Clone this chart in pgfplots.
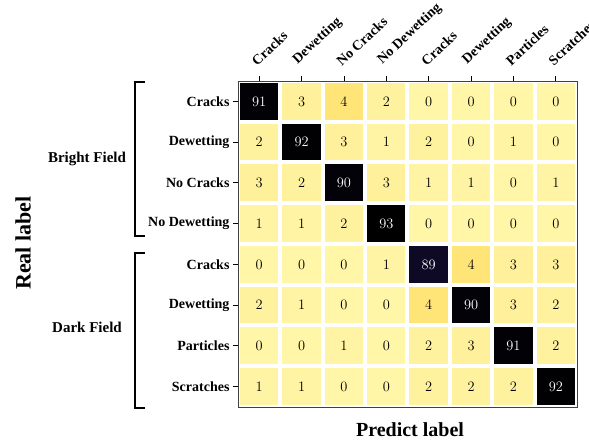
\documentclass[border=0pt]{standalone}
\usepackage{pgfplots}
\usepackage{pgfplotstable}
\pgfplotsset{compat=1.18}
\usepackage{fontspec}
\setmainfont{Liberation Serif}
\pgfplotstableread{
x y c
0 0 1
1 0 1
2 0 0
3 0 0
4 0 2
5 0 2
6 0 2
7 0 92
0 1 0
1 1 0
2 1 1
3 1 0
4 1 2
5 1 3
6 1 91
7 1 2
0 2 2
1 2 1
2 2 0
3 2 0
4 2 4
5 2 90
6 2 3
7 2 2
0 3 0
1 3 0
2 3 0
3 3 1
4 3 89
5 3 4
6 3 3
7 3 3
0 4 1
1 4 1
2 4 2
3 4 93
4 4 0
5 4 0
6 4 0
7 4 0
0 5 3
1 5 2
2 5 90
3 5 3
4 5 1
5 5 1
6 5 0
7 5 1
0 6 2
1 6 92
2 6 3
3 6 1
4 6 2
5 6 0
6 6 1
7 6 0
0 7 91
1 7 3
2 7 4
3 7 2
4 7 0
5 7 0
6 7 0
7 7 0
}\cmdata
\begin{document}
\begin{tikzpicture}[x=1pt,y=1pt]
\begin{axis}[
  at={(238pt,36pt)}, anchor=south west,
  scale only axis, width=339pt, height=326pt,
  xmin=-0.5, xmax=7.5, ymin=-0.5, ymax=7.5,
  xtick={0,...,7}, ytick={0,...,7},
  minor xtick={-0.5,0.5,1.5,2.5,3.5,4.5,5.5,6.5,7.5},
  minor ytick={-0.5,0.5,1.5,2.5,3.5,4.5,5.5,6.5,7.5},
  minor tick length=0pt,
  xminorgrids, yminorgrids,
  minor grid style={white, line width=4pt},
  axis on top,
  xticklabels={Cracks,Dewetting,No Cracks,No Dewetting,Cracks,Dewetting,Particles,Scratches},
  yticklabels={Scratches,Particles,Dewetting,Cracks,No Dewetting,No Cracks,Dewetting,Cracks},
  xtick pos=upper, xticklabel pos=upper, ytick pos=left,
  tick align=outside, major tick length=5pt,
  major tick style={black, line width=0.8pt},
  xticklabel style={xshift=-2pt, yshift=8pt, rotate=43, anchor=south west, inner sep=1pt, font=\bfseries\fontsize{14}{14}\selectfont},
  yticklabel style={font=\bfseries\fontsize{14}{14}\selectfont},
  axis line style={black!75, line width=0.9pt},
  colormap={yelblk}{rgb255(0pt)=(255,246,168); rgb255(3pt)=(255,240,155); rgb255(4pt)=(255,228,120); rgb255(20pt)=(250,170,60); rgb255(50pt)=(190,55,80); rgb255(80pt)=(50,15,70); rgb255(89pt)=(14,9,36); rgb255(90pt)=(3,2,8); rgb255(93pt)=(0,0,0)},
  point meta min=0, point meta max=93,
]
\addplot[matrix plot*, mesh/cols=8, point meta=explicit]
  table[x=x, y=y, meta=c] {\cmdata};
\addplot[draw=none, mark=none,
  visualization depends on={\thisrow{c} \as \cval},
  nodes near coords={\pgfmathtruncatemacro{\isdark}{\cval>50}\ifnum\isdark=1 \color{white}\else\color{black}\fi\pgfmathprintnumber{\cval}},
  every node near coord/.append style={anchor=center, font=\fontsize{14}{14}\selectfont}]
  table[x=x, y=y] {\cmdata};
\end{axis}
\draw[line width=1.8pt] (145,361) -- (135,361) -- (135,207) -- (145,207);
\draw[line width=1.8pt] (145,190) -- (135,190) -- (135,35) -- (145,35);
\node[font=\bfseries\fontsize{15}{15}\selectfont] at (87,284) {Bright Field};
\node[font=\bfseries\fontsize{15}{15}\selectfont] at (87,116) {Dark Field};
\node[rotate=90, font=\bfseries\fontsize{22}{22}\selectfont] at (23,200) {Real label};
\node[font=\bfseries\fontsize{20}{20}\selectfont] at (410,13) {Predict label};
\pgfresetboundingbox
\useasboundingbox (0,0) rectangle (589,443);
\end{tikzpicture}
\end{document}
